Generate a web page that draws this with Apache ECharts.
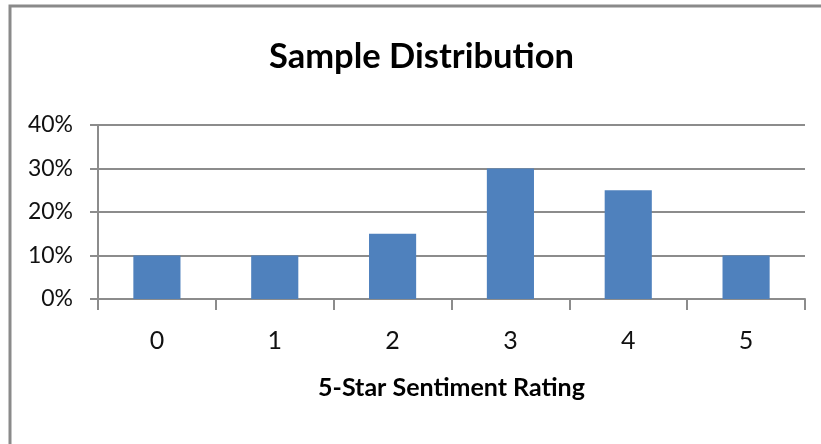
<!DOCTYPE html>
<html>
<head>
<meta charset="utf-8">
<script src="https://cdn.jsdelivr.net/npm/echarts@6/dist/echarts.min.js"></script>
<style>
  html, body { margin: 0; padding: 0; background: #fff; }
  #chart { width: 821px; height: 444px; }
</style>
</head>
<body>
<div id="chart"></div>
<script>
var ratings = ['0', '1', '2', '3', '4', '5'];
var shares = [10, 10, 15, 30, 25, 10];

var myChart = echarts.init(document.getElementById('chart'));
var fontName = 'Lato';

var option = {
    backgroundColor: '#fff',
    animation: false,
    // frame around the chart (only top and left edges show in the original)
    graphic: [{
        type: 'rect',
        shape: {x: 10, y: 6, width: 900, height: 500},
        style: {fill: 'none', stroke: '#8a8a8a', lineWidth: 3}
    }],
    title: {
        text: 'Sample Distribution',
        left: 264,
        top: 34,
        textStyle: {fontFamily: fontName, fontSize: 34.5, fontWeight: 'bold', color: '#000'}
    },
    grid: {left: 98, right: 16, top: 125, bottom: 145},
    xAxis: {
        type: 'category',
        data: ratings,
        name: '5-Star Sentiment Rating',
        nameLocation: 'middle',
        nameGap: 76,
        nameTextStyle: {fontFamily: fontName, fontSize: 25, fontWeight: 'bold', color: '#000', verticalAlign: 'top'},
        axisLine: {lineStyle: {color: '#8c8c8c', width: 2}},
        axisTick: {show: true, length: 11, lineStyle: {color: '#8c8c8c', width: 2}},
        axisLabel: {margin: 29, fontFamily: fontName, fontSize: 25, color: '#111'}
    },
    yAxis: {
        type: 'value',
        min: 0,
        max: 40,
        interval: 10,
        axisLine: {show: true, lineStyle: {color: '#8c8c8c', width: 2}},
        axisTick: {show: true, length: 8, lineStyle: {color: '#8c8c8c', width: 2}},
        splitLine: {lineStyle: {color: '#8c8c8c', width: 2}},
        axisLabel: {formatter: '{value}%', margin: 25, fontFamily: fontName, fontSize: 23, color: '#111'}
    },
    series: [{
        type: 'bar',
        data: shares,
        barWidth: '40%',
        itemStyle: {color: '#4f81bd'}
    }]
};

myChart.setOption(option);
</script>
</body>
</html>
